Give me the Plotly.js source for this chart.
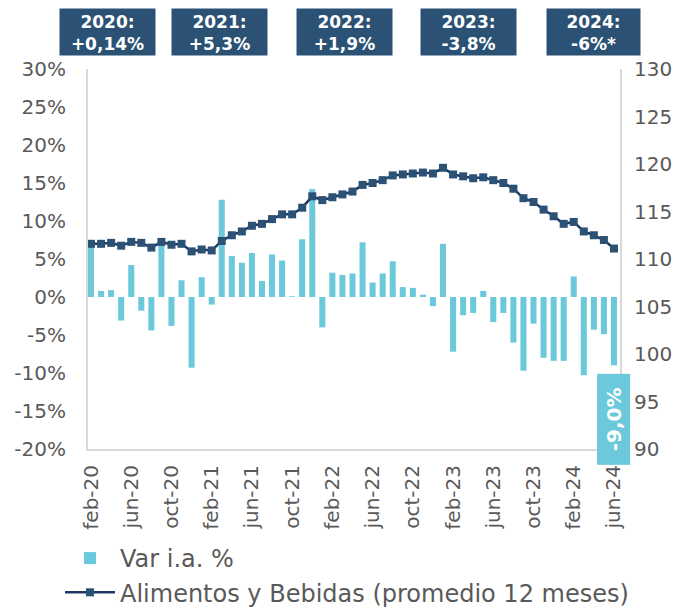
<!DOCTYPE html>
<html>
<head>
<meta charset="utf-8">
<script src="https://cdn.plot.ly/plotly-3.0.1.min.js"></script>
<style>html,body{margin:0;padding:0;background:#fff;}#chart{width:682px;height:608px;}</style>
</head>
<body>
<div id="chart"></div>
<script>
const months = [
  "feb-20","mar-20","abr-20","may-20","jun-20","jul-20","ago-20","sep-20","oct-20","nov-20","dic-20",
  "ene-21","feb-21","mar-21","abr-21","may-21","jun-21","jul-21","ago-21","sep-21","oct-21","nov-21","dic-21",
  "ene-22","feb-22","mar-22","abr-22","may-22","jun-22","jul-22","ago-22","sep-22","oct-22","nov-22","dic-22",
  "ene-23","feb-23","mar-23","abr-23","may-23","jun-23","jul-23","ago-23","sep-23","oct-23","nov-23","dic-23",
  "ene-24","feb-24","mar-24","abr-24","may-24","jun-24"
];
const varIA = [
  6.8, 0.8, 0.9, -3.1, 4.2, -1.8, -4.4, 7.0, -3.8, 2.2, -9.3,
  2.6, -1.0, 12.8, 5.4, 4.5, 5.8, 2.1, 5.6, 4.8, 0.1, 7.6, 14.2,
  -4.0, 3.2, 2.9, 3.1, 7.2, 1.9, 3.1, 4.7, 1.3, 1.2, 0.3, -1.2,
  7.0, -7.2, -2.4, -2.1, 0.8, -3.3, -2.1, -6.0, -9.7, -3.5, -8.0, -8.4,
  -8.4, 2.7, -10.3, -4.3, -4.9, -9.0
];
const alimentos = [
  111.6, 111.6, 111.7, 111.4, 111.8, 111.7, 111.2, 111.8, 111.5, 111.6, 110.8,
  111.0, 110.9, 111.9, 112.5, 112.9, 113.5, 113.7, 114.2, 114.7, 114.7, 115.4, 116.6,
  116.2, 116.5, 116.8, 117.1, 117.8, 118.0, 118.3, 118.8, 118.9, 119.0, 119.1, 119.0,
  119.6, 118.9, 118.7, 118.5, 118.6, 118.3, 118.0, 117.4, 116.4, 116.0, 115.2, 114.5,
  113.7, 113.9, 112.9, 112.5, 112.0, 111.1
];
const tickLabels = ["feb-20","jun-20","oct-20","feb-21","jun-21","oct-21","feb-22","jun-22","oct-22","feb-23","jun-23","oct-23","feb-24","jun-24"];
const leftTickVals = [-20, -15, -10, -5, 0, 5, 10, 15, 20, 25, 30];
const leftTickText = ["-20%","-15%","-10%","-5%","0%","5%","10%","15%","20%","25%","30%"];
const yearLabels = ["2020:","2021:","2022:","2023:","2024:"];
const yearValues = ["+0,14%","+5,3%","+1,9%","-3,8%","-6%*"];
const lastLabel = "-9,0%";

const W = 682, H = 608;
const M = {l: 88, r: 62, t: 69, b: 159, autoexpand: false};
const pw = W - M.l - M.r, ph = H - M.t - M.b;
const boxCentersPx = [107.5, 219, 344.5, 468, 593.5];
const boxCenterYPx = 32;

const gray = "#595959";
const font = "DejaVu Sans, Verdana, sans-serif";

const traces = [
  {
    type: "bar", x: months, y: varIA, name: "Var i.a. %",
    marker: {color: "#6BC9DB"}, yaxis: "y"
  },
  {
    type: "scatter", mode: "lines+markers", x: months, y: alimentos,
    name: "Alimentos y Bebidas (promedio 12 meses)", yaxis: "y2",
    line: {color: "#1F3864", width: 2.5},
    marker: {symbol: "square", size: 8, color: "#2B5275"}
  }
];

const annotations = [];
yearLabels.forEach((lab, i) => {
  annotations.push({
    xref: "paper", yref: "paper",
    x: (boxCentersPx[i] - M.l) / pw,
    y: (H - M.b - boxCenterYPx) / ph,
    xanchor: "center", yanchor: "middle",
    text: "<b>" + lab + "<br>" + yearValues[i] + "</b>",
    showarrow: false,
    font: {family: font, size: 17, color: "#ffffff"},
    bgcolor: "#2B5275",
    width: i === 4 ? 91 : 93, height: 44,
    align: "center", valign: "bottom"
  });
});
annotations.push({
  xref: "x", yref: "y",
  x: months[months.length - 1], y: -16.1,
  xanchor: "center", yanchor: "middle",
  text: "<b>" + lastLabel + "</b>",
  textangle: -90,
  showarrow: false,
  font: {family: font, size: 20, color: "#ffffff"},
  bgcolor: "#6BC9DB",
  width: 88, height: 30
});

const layout = {
  width: W, height: H,
  margin: M,
  paper_bgcolor: "#ffffff", plot_bgcolor: "#ffffff",
  font: {family: font, color: gray, size: 20},
  bargap: 0.4,
  showlegend: true,
  legend: {
    xref: "container", yref: "container",
    x: 60 / W, y: 1 - 536 / H, xanchor: "left", yanchor: "top",
    orientation: "v", traceorder: "normal",
    font: {family: font, size: 24, color: gray},
    itemwidth: 50, tracegroupgap: 0
  },
  xaxis: {
    type: "category", tickmode: "array", tickvals: tickLabels, ticktext: tickLabels,
    range: [-0.3, 52.6], autorange: false,
    tickangle: -90, ticks: "", showgrid: false, zeroline: false,
    showline: true, linecolor: "#D9D9D9", linewidth: 2,
    tickfont: {family: font, size: 20, color: gray},
    ticklabelstandoff: 6
  },
  yaxis: {
    range: [-20, 30], autorange: false, tickmode: "array", tickvals: leftTickVals, ticktext: leftTickText,
    showgrid: false, zeroline: false,
    showline: true, linecolor: "#D9D9D9", linewidth: 2,
    ticks: "", ticklabelstandoff: 16,
    tickfont: {family: font, size: 20, color: gray}
  },
  yaxis2: {
    range: [90, 130], autorange: false, dtick: 5, overlaying: "y", side: "right",
    showgrid: false, zeroline: false,
    showline: true, linecolor: "#D9D9D9", linewidth: 2,
    ticks: "", ticklabelstandoff: 8,
    tickfont: {family: font, size: 20, color: gray}
  },
  annotations: annotations
};

Plotly.newPlot("chart", traces, layout, {displayModeBar: false, staticPlot: true});
</script>
</body>
</html>
